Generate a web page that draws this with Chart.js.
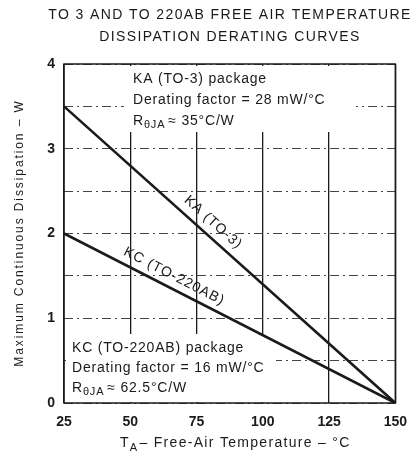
<!DOCTYPE html>
<html lang="en">
<head>
  <meta charset="UTF-8" />
  <title>Derating curves</title>
  <style>
    html, body { margin: 0; padding: 0; background: #fff; }
    #wrap { width: 418px; height: 457px; }
  </style>
</head>
<body>
  <div id="wrap"><canvas id="derating" width="418" height="457"></canvas></div>

  <script src="https://cdn.jsdelivr.net/npm/chart.js"></script>
  <script>
    // data
    const temps = [25, 150];          // free-air temperature, deg C
    const kaWatts = [3.5, 0];         // KA (TO-3)
    const kcWatts = [2.0, 0];         // KC (TO-220AB)
    const xTicks = [25, 50, 75, 100, 125, 150];
    const yTicks = [0, 1, 2, 3, 4];

    const FONT = '"Liberation Sans", Arial, sans-serif';
    const INK = '#1a1a1a';

    // text, frame and line labels
    const annotate = {
      id: 'annotate',
      beforeDatasetsDraw(chart) {
        const ctx = chart.ctx;
        const a = chart.chartArea;
        ctx.save();
        // blank out grid behind the two note blocks
        ctx.fillStyle = '#fff';
        ctx.fillRect(124, a.top + 2, 232, 66);
        ctx.fillRect(a.left + 2, 334, 210, a.bottom - 335);
        ctx.restore();
      },
      afterDraw(chart) {
        const ctx = chart.ctx;
        const a = chart.chartArea;
        const xs = chart.scales.x, ys = chart.scales.y;
        ctx.save();
        ctx.fillStyle = INK;
        ctx.strokeStyle = INK;

        // frame
        ctx.lineWidth = 1.5;
        ctx.strokeRect(a.left, a.top, a.right - a.left, a.bottom - a.top);

        // title
        ctx.textAlign = 'center';
        ctx.textBaseline = 'middle';
        ctx.font = '14px ' + FONT;
        ctx.letterSpacing = '1.4px';
        ctx.fillText('TO 3 AND TO 220AB FREE AIR TEMPERATURE', 230, 15);
        ctx.fillText('DISSIPATION DERATING CURVES', 230, 37);

        // notes
        ctx.textAlign = 'left';
        ctx.letterSpacing = '0.8px';
        ctx.font = '14px ' + FONT;
        const subR = (x, y, tail) => {
          ctx.font = '14px ' + FONT;
          ctx.fillText('R', x, y);
          let w = ctx.measureText('R').width;
          ctx.font = '11px ' + FONT;
          ctx.fillText('\u03B8JA', x + w, y + 4);
          w += ctx.measureText('\u03B8JA').width;
          ctx.font = '14px ' + FONT;
          ctx.fillText(tail, x + w + 3, y);
        };
        ctx.fillText('KA (TO-3) package', 133, 79);
        ctx.fillText('Derating factor = 28 mW/\u00B0C', 133, 100);
        subR(133, 121, '\u2248 35\u00B0C/W');
        ctx.fillText('KC (TO-220AB) package', 72, 348);
        ctx.fillText('Derating factor = 16 mW/\u00B0C', 72, 368);
        subR(72, 388, '\u2248 62.5\u00B0C/W');

        // line labels along the curves
        const lineLabel = (text, xv, vals, off) => {
          const x0 = xs.getPixelForValue(temps[0]), y0 = ys.getPixelForValue(vals[0]);
          const x1 = xs.getPixelForValue(temps[1]), y1 = ys.getPixelForValue(vals[1]);
          const ang = Math.atan2(y1 - y0, x1 - x0);
          const t = (xv - temps[0]) / (temps[1] - temps[0]);
          const px = x0 + t * (x1 - x0) + Math.sin(ang) * off;
          const py = y0 + t * (y1 - y0) - Math.cos(ang) * off;
          ctx.save();
          ctx.translate(px, py);
          ctx.rotate(ang);
          ctx.textAlign = 'center';
          ctx.textBaseline = 'middle';
          ctx.font = '14px ' + FONT;
          ctx.letterSpacing = '1px';
          ctx.fillText(text, 0, 0);
          ctx.restore();
        };
        lineLabel('KA (TO-3)', 78, kaWatts, 13);
        lineLabel('KC (TO-220AB)', 64.5, kcWatts, 12);

        // axis titles
        ctx.save();
        ctx.translate(20, 233);
        ctx.rotate(-Math.PI / 2);
        ctx.textAlign = 'center';
        ctx.textBaseline = 'middle';
        ctx.font = '12px ' + FONT;
        ctx.letterSpacing = '1.9px';
        ctx.fillText('Maximum Continuous Dissipation \u2013 W', 0, 0);
        ctx.restore();

        ctx.textBaseline = 'alphabetic';
        ctx.textAlign = 'left';
        ctx.letterSpacing = '1.3px';
        let x = 120;
        ctx.font = '14px ' + FONT;
        ctx.fillText('T', x, 447);
        x += ctx.measureText('T').width;
        ctx.font = '11px ' + FONT;
        ctx.fillText('A', x, 451);
        x += ctx.measureText('A').width + 1;
        ctx.font = '14px ' + FONT;
        ctx.fillText('\u2013 Free-Air Temperature \u2013 \u00B0C', x, 447);
        ctx.restore();
      }
    };

    new Chart(document.getElementById('derating'), {
      type: 'line',
      data: {
        datasets: [
          {
            label: 'KA (TO-3)',
            data: temps.map((t, i) => ({ x: t, y: kaWatts[i] })),
            borderColor: INK,
            borderWidth: 2.6,
            pointRadius: 0,
            tension: 0,
            fill: false
          },
          {
            label: 'KC (TO-220AB)',
            data: temps.map((t, i) => ({ x: t, y: kcWatts[i] })),
            borderColor: INK,
            borderWidth: 2.6,
            pointRadius: 0,
            tension: 0,
            fill: false
          }
        ]
      },
      options: {
        responsive: false,
        animation: false,
        layout: { padding: { left: 0, top: 64, right: 20, bottom: 0 } },
        plugins: {
          legend: { display: false },
          title: { display: false },
          tooltip: { enabled: false }
        },
        scales: {
          x: {
            type: 'linear',
            min: xTicks[0],
            max: xTicks[xTicks.length - 1],
            afterFit(scale) { scale.height = 54; },
            afterBuildTicks(scale) { scale.ticks = xTicks.map(v => ({ value: v })); },
            ticks: {
              color: INK,
              padding: 11,
              maxRotation: 0,
              font: { family: FONT, size: 14, weight: 'bold' }
            },
            grid: { color: INK, lineWidth: 1.3, drawTicks: false },
            border: { display: false }
          },
          y: {
            type: 'linear',
            min: 0,
            max: 4,
            afterFit(scale) { scale.width = 64; },
            ticks: {
              stepSize: 0.5,
              color: INK,
              padding: 9,
              font: { family: FONT, size: 14, weight: 'bold' },
              callback: v => (yTicks.includes(v) ? String(v) : '')
            },
            grid: { color: '#444', lineWidth: 1, drawTicks: false },
            border: { display: false, dash: [9, 4, 2, 4] }
          }
        }
      },
      plugins: [annotate]
    });
  </script>
</body>
</html>
